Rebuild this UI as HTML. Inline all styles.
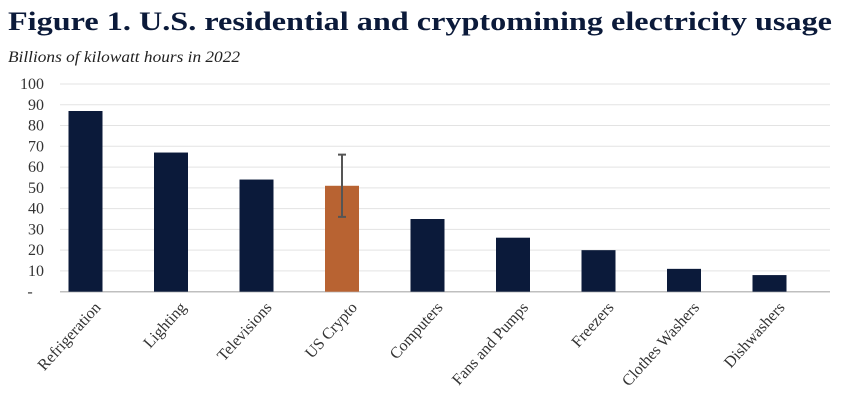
<!DOCTYPE html>
<html><head><meta charset="utf-8"><style>
body{margin:0;background:#fff;width:850px;height:409px;overflow:hidden;font-family:"Liberation Serif",serif}
</style></head><body>
<svg width="850" height="409" id="c">
<text x="8" y="30" font-size="26" font-weight="bold" fill="#0b1a3a" textLength="824" lengthAdjust="spacingAndGlyphs">Figure 1. U.S. residential and cryptomining electricity usage</text>
<text x="8" y="62" font-size="16" font-style="italic" fill="#222" textLength="232" lengthAdjust="spacingAndGlyphs">Billions of kilowatt hours in 2022</text>
</svg>
<script>
const categories=["Refrigeration","Lighting","Televisions","US Crypto","Computers","Fans and Pumps","Freezers","Clothes Washers","Dishwashers"];
const values=[87,67,54,51,35,26,20,11,8];
const errLow=[null,null,null,36,null,null,null,null,null];
const errHigh=[null,null,null,66,null,null,null,null,null];
const ticks=[0,10,20,30,40,50,60,70,80,90,100];
const svg=document.getElementById('c');
const NS='http://www.w3.org/2000/svg';
const y0=291.7,ppu=2.077;
const y=v=>y0-v*ppu;
const x=i=>85.5+85.5*i;
function mk(t,a){const e=document.createElementNS(NS,t);for(const k in a)e.setAttribute(k,a[k]);svg.appendChild(e);return e;}
ticks.forEach(t=>{
 const g=mk('line',{x1:60,x2:830,y1:y(t),y2:y(t),stroke:t===0?'#bfbfbf':'#e3e3e3','stroke-width':t===0?1.5:1});
 
 
 const l=mk('text',{x:t===0?30:44,y:y(t)+5,'font-size':16,'text-anchor':t===0?'middle':'end',fill:'#333'});
 l.textContent=t===0?'-':t;
 
 
});
categories.forEach((c,i)=>{
 const b=mk('rect',{x:x(i)-17,y:y(values[i]),width:34,height:values[i]*ppu,fill:c==='US Crypto'?'#b86332':'#0b1a3a'});
 
 
 if(errLow[i]!=null){
  const e=mk('path',{d:`M${x(i)} ${y(errHigh[i])}V${y(errLow[i])}M${x(i)-4} ${y(errHigh[i])}h8M${x(i)-4} ${y(errLow[i])}h8`,stroke:'#555','stroke-width':2,fill:'none'});
  
  
 }
 const ax=x(i)+16, ay=308;
 const t=mk('text',{x:ax,y:ay,'font-size':16,'text-anchor':'end',fill:'#333',transform:`rotate(-48 ${ax} ${ay})`});
 t.textContent=c;
 
 
});
</script>
</body></html>
